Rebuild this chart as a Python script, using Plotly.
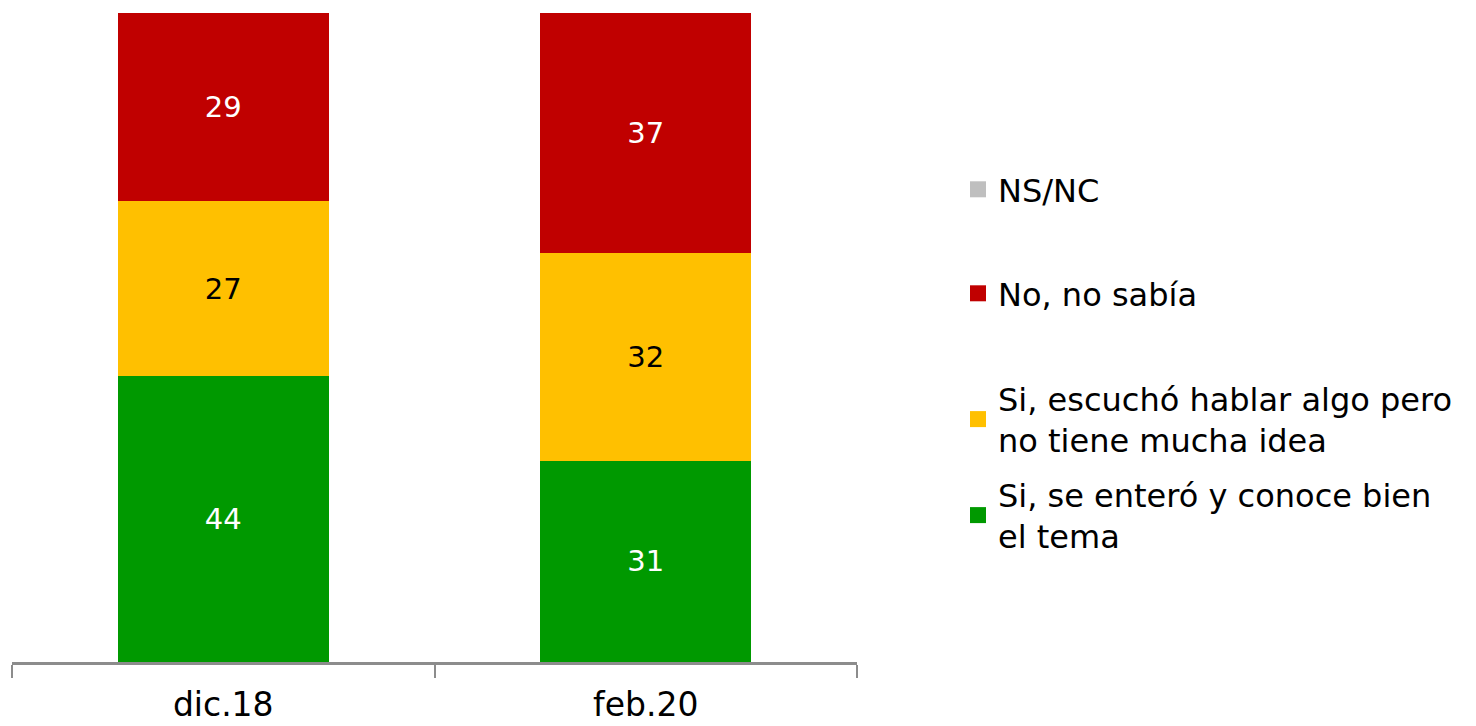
import plotly.graph_objects as go

categories = ["dic.18", "feb.20"]
series_names = ["Si, se enteró y conoce bien<br>el tema",
                "Si, escuchó hablar algo pero<br>no tiene mucha idea",
                "No, no sabía",
                "NS/NC"]
si_conoce = [44, 31]
si_escucho = [27, 32]
no_sabia = [29, 37]
ns_nc = [0, 0]

colors = ["#009900", "#FFC000", "#C00000", "#BFBFBF"]
text_colors = ["white", "black", "white", "white"]
series = [si_conoce, si_escucho, no_sabia, ns_nc]

FONT = "DejaVu Sans"
W, H = 1468, 718
L, T = 4, 5
pw, ph = 845, 649
R, B = W - L - pw, H - T - ph

fig = go.Figure()
for name, vals, c, tc in zip(series_names, series, colors, text_colors):
    fig.add_trace(go.Bar(
        x=categories, y=vals, name=name, marker_color=c,
        marker_line_width=0,
        text=[str(v) if v else "" for v in vals],
        textposition="inside", insidetextanchor="middle",
        textfont=dict(color=tc, size=29, family=FONT),
        showlegend=False, hoverinfo="skip"))

legend_names = ["legend4", "legend3", "legend2", "legend"]
item_tops = [459, 363, 258, 154]
for i, (name, c) in enumerate(zip(series_names, colors)):
    fig.add_trace(go.Scatter(
        x=[None], y=[None], mode="markers", name=name,
        marker=dict(symbol="square", size=18, color=c),
        legend=legend_names[i], showlegend=True))

layout_legends = {}
for i, ln in enumerate(legend_names):
    ypaper = 1 - (item_tops[i] - T) / ph
    layout_legends[ln] = dict(
        x=(950 - L) / pw, y=ypaper, xanchor="left", yanchor="top",
        font=dict(size=32, family=FONT, color="black"),
        bgcolor="rgba(0,0,0,0)", itemwidth=30, tracegroupgap=0)

fig.update_layout(
    width=W, height=H,
    margin=dict(l=L, r=R, t=T, b=B, autoexpand=False),
    barmode="stack", bargap=0.5,
    plot_bgcolor="white", paper_bgcolor="white",
    font=dict(family=FONT, size=30, color="black"),
    xaxis=dict(showline=True, linecolor="#8c8c8c", linewidth=3,
               ticks="outside", tickson="boundaries", ticklen=13,
               tickcolor="#8c8c8c", tickwidth=2,
               ticklabelstandoff=11, automargin=False,
               tickfont=dict(size=33, family=FONT, color="black"),
               showgrid=False),
    yaxis=dict(range=[0, 100], visible=False, showgrid=False),
    **layout_legends,
)

fig.write_html("out.html")
